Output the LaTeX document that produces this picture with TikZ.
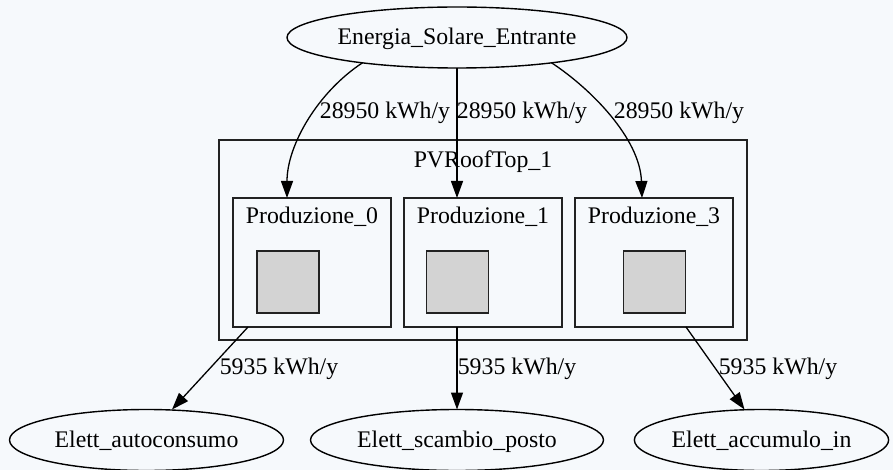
\documentclass[tikz,border=0pt]{standalone}
\usepackage{fontspec}
\setmainfont{Liberation Serif}
\usetikzlibrary{arrows.meta,shapes.geometric}
\definecolor{bgcol}{HTML}{F6F9FC}
\definecolor{boxgray}{HTML}{D3D3D3}
\definecolor{framecol}{HTML}{222222}
\tikzset{
  every node/.style={font=\fontsize{23.8}{28}\selectfont, inner sep=0pt, outer sep=0pt},
  oval/.style={draw=black, ellipse, line width=1.4pt, minimum height=61pt,
               text height=17pt, text depth=2pt},
  clusterbox/.style={draw=framecol, rectangle, line width=1.6pt},
  prodbox/.style={draw=framecol, rectangle, line width=1.6pt,
                  minimum width=158pt, minimum height=129pt},
  cell/.style={draw=framecol, fill=boxgray, rectangle, line width=1.4pt,
               minimum width=62pt, minimum height=62pt},
  txt/.style={anchor=base},
  edge/.style={draw=black, line width=1.3pt, -{Triangle[length=17pt,width=12pt]}}
}
\begin{document}
\begin{tikzpicture}[x=1pt,y=-1pt]
  % canvas
  \fill[bgcol] (0,0) rectangle (893,470);
  \useasboundingbox (0,0) rectangle (893,470);

  % source
  \node[oval, minimum width=340pt] (energia) at (457,37.5) {Energia\_Solare\_Entrante};

  % cluster with three production blocks
  \node[clusterbox, minimum width=528pt, minimum height=200pt] (roof) at (483,240) {};
  \node[txt] (rooft) at (483,168) {PVRoofTop\_1};

  \node[prodbox] (p0) at (312,262.5) {};
  \node[prodbox] (p1) at (483,262.5) {};
  \node[prodbox] (p3) at (654,262.5) {};
  \node[txt] (p0t) at (312,224) {Produzione\_0};
  \node[txt] (p1t) at (483,224) {Produzione\_1};
  \node[txt] (p3t) at (654,224) {Produzione\_3};

  \node[cell] (c0) at (288,282) {};
  \node[cell] (c1) at (457.5,282) {};
  \node[cell] (c3) at (654.5,282) {};

  % sinks
  \node[oval, minimum width=274pt] (auto) at (146.5,440) {Elett\_autoconsumo};
  \node[oval, minimum width=293pt] (scambio) at (457,440) {Elett\_scambio\_posto};
  \node[oval, minimum width=253pt] (accum) at (761.5,440) {Elett\_accumulo\_in};

  % incoming energy
  \draw[edge] (energia.195) .. controls (318,92) and (287,145) .. ([xshift=-25pt]p0.north);
  \draw[edge] (energia.south) -- ([xshift=-26pt]p1.north);
  \draw[edge] (energia.345) .. controls (590,88) and (640,138) .. ([xshift=-12pt]p3.north);

  \node[txt] (e1) at (385,119) {28950 kWh/y};
  \node[txt] (e2) at (522,119) {28950 kWh/y};
  \node[txt] (e3) at (679,119) {28950 kWh/y};

  % outgoing electricity
  \draw[edge] ([xshift=-64pt]p0.south) -- ([xshift=25.5pt]auto.north);
  \draw[edge] ([xshift=-26pt]p1.south) -- (scambio.north);
  \draw[edge] ([xshift=32pt]p3.south) -- ([xshift=-17pt]accum.north);

  \node[txt] (o1) at (279,374) {5935 kWh/y};
  \node[txt] (o2) at (517,374) {5935 kWh/y};
  \node[txt] (o3) at (778,374) {5935 kWh/y};
\end{tikzpicture}
\end{document}
